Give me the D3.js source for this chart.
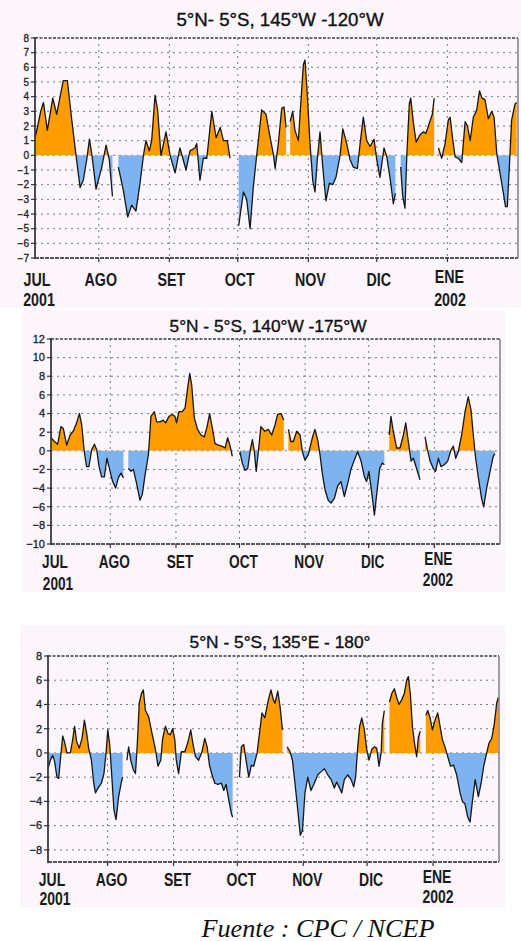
<!DOCTYPE html>
<html><head><meta charset="utf-8">
<script src="https://cdn.jsdelivr.net/npm/d3@7"></script>
<style>body{margin:0;background:#fff}svg{display:block}</style>
</head><body>
<svg id="c" width="521" height="941"></svg>
<script>
// ---------- data ----------
const months = ["JUL","AGO","SET","OCT","NOV","DIC","ENE"];
const monthStartDays = [0,31,62,92,123,153,184]; // days since 1 Jul 2001
const yearLabels = ["2001","2002"];
const titles = ["5°N- 5°S, 145°W -120°W","5°N - 5°S, 140°W -175°W","5°N - 5°S, 135°E - 180°"];
const source = "Fuente : CPC / NCEP";

const ticks1 = [-7,-6,-5,-4,-3,-2,-1,0,1,2,3,4,5,6,7,8];
const ticks2 = [-10,-8,-6,-4,-2,0,2,4,6,8,10,12];
const ticks3 = [-8,-6,-4,-2,0,2,4,6,8];

// panel 1: 145W-120W  (null = missing data)
const days1 = [3,4.2,5.5,6.7,8.4,10.8,12.5,15.4,17.2,19,21,22.8,24.2,25.7,26.9,28,29.8,32.3,34.2,35.6,37,38.3,39.6,41.8,43.7,45.4,47.3,49.1,50.6,51.7,53.2,54.2,55.7,56.8,58.3,60.5,62.3,64.5,66.6,69.3,71,73.2,74,75.4,76.9,78.4,80.6,82.5,84.3,85.7,87.4,88.6,90.5,92.4,94.5,95.9,97.4,98.8,100.3,102.5,104.4,106.2,107.6,108.4,109.8,111.3,112.3,113.2,114,115,116.1,117.1,118.6,119.6,120.8,121.5,122.5,123.7,124.9,125.9,126.9,128.1,129.3,130.7,132.2,133.7,135.1,136.9,138.1,139.5,141.3,142.7,144.5,145.7,147.1,148.6,150.1,151.8,153,154.4,156.2,157.4,158.8,160.3,161.2,162.3,163.5,164.4,165.4,166.2,167.3,167.9,169.1,170.3,172,173.5,174.6,176.1,177.4,178.2,179.2,180.1,181.5,183,184.4,185.2,186.4,187.4,188.8,190.3,191.8,192.8,194,195.4,196.9,198.1,199.2,200.5,202,203.5,204.5,205.7,207.1,208.6,209.5,210.3,211.2,212.2,213.7,214.4];
const vals1 = [1.2,2.0,3.0,3.6,1.7,3.9,2.8,5.1,5.1,2.6,0,-2.2,-1.7,-0.3,1.1,0,-2.3,-0.8,0.7,-0.3,-2.8,null,-0.8,-2.4,-4.2,-3.4,-3.8,-1.9,0,1.0,0.3,1.0,4.1,3.1,0,1.6,0,-1.2,0.5,-1.0,0.3,0.5,0.8,-1.7,-0.2,-0.2,3.0,1.2,1.9,1.0,1.0,-0.2,null,-4.8,-2.5,-3.0,-5.0,-2.2,0,3.1,2.8,1.2,0.1,-0.9,0.8,3.2,3.3,1.9,null,2.3,3.0,1.7,1.0,3.4,6.2,6.5,4.2,0.8,-1.7,-2.5,-0.3,1.6,-0.8,-3.1,-1.9,-2.0,-1.5,0,1.8,1.0,-0.3,-0.8,-0.9,0.8,2.6,1.0,0.6,1.1,-0.3,-1.5,0.5,-0.1,-1.5,-3.3,-2.6,null,-0.8,-2.8,-3.6,0,3.5,3.9,2.2,0.9,1.4,1.6,1.5,2.2,2.8,3.9,null,0.5,-0.2,0.8,2.4,2.6,1.0,-0.1,-0.2,-0.5,2.3,2.0,1.0,2.6,3.1,4.4,3.9,3.8,2.5,3.0,2.6,0.1,-1.2,-2.6,-3.5,-3.5,-0.8,2.4,3.5,3.6];

// panel 2: 140W-175W
const days2 = [3,4.6,6.1,7.7,8.8,10.4,12,13.5,15.1,16.4,17.5,18.7,19.8,20.9,22.2,23.5,24.6,25.7,26.9,28.2,29.4,30.9,32.1,33.5,34.8,36,37.2,38.4,39.5,40.8,41.9,43.4,45,46.1,47.4,49,50.2,51.8,52.9,54.5,56,57.1,58.7,60.3,61.5,62.3,63.4,65,66.3,67.5,68.5,69.4,70.7,72.2,73.8,75.4,76.7,77.9,79.2,80.4,82,83.6,85.2,86.4,87.5,88.6,90.5,92.2,93.3,94.6,95.9,97.1,98.1,99,99.9,100.9,102.1,104,105.6,107.2,108.8,110,111.6,112.9,113.9,115.1,116.3,117.4,119,120.6,121.7,122.9,124.5,126.4,127.6,128.9,130,131.1,132.4,133.9,135.2,136.8,138.3,139.9,141.5,143.1,144.6,146.2,147.8,149.4,151,152,153.1,154.4,155.7,156.9,158.2,159.4,160.4,161.6,162.7,163.5,164.6,166.2,167.8,169.4,170.5,171.7,173,174.1,175.6,177.2,178.4,179.6,180.8,182,183.5,184.6,185.9,187.1,188.7,190.3,191.9,193,194.1,195.3,196.9,198.5,200,201.3,202.4,203.5,204.8,206.3,207.3,208.7,210.3,211.8,212.6];
const vals2 = [1.4,1.0,0.7,2.6,2.4,0.6,1.7,2.1,3.0,4.0,2.8,-0.1,-1.7,-1.7,0.1,0.7,0.1,-1.7,-2.8,-2.8,-0.8,-2.2,-3.3,-4.0,-2.9,-2.4,-2.9,null,-1.9,-2.2,-2.0,-3.5,-5.3,-4.7,-2.6,-0.4,3.7,4.2,3.1,3.1,3.3,3.0,3.7,3.9,3.7,3.0,4.2,4.2,4.6,6.7,8.3,7.1,3.5,2.3,1.7,1.5,2.6,4.0,2.4,0.8,0.6,0.5,0.3,1.4,0.6,-0.6,null,-0.1,-1.3,-2.1,-1.9,0.1,1.2,-0.1,-2.2,-0.1,2.6,2.1,2.3,1.7,2.8,3.9,4.0,3.3,null,2.3,1.0,1.0,2.1,1.7,-0.1,-1.0,-0.4,1.4,2.3,1.2,-0.4,-2.4,-4.2,-5.3,-5.6,-5.1,-3.8,-3.3,-4.9,-3.5,-2.0,-1.0,-0.1,-1.1,-2.8,-3.3,-2.2,-4.4,-6.9,-4.4,-1.9,-1.3,-1.5,null,1.7,3.7,2.1,0.3,0.3,1.7,3.0,1.0,-1.1,-0.8,-1.9,-3.1,null,1.5,0.1,-1.1,-1.9,-2.2,-0.8,-1.7,-1.5,-1.1,0.1,0.5,-0.8,-0.1,1.7,4.2,5.8,4.4,1.7,-0.8,-2.9,-5.1,-6.0,-4.0,-2.2,-0.6,-0.3];

// panel 3: 135E-180
const days3 = [3,4.1,5.2,6.1,7.2,8,8.8,9.9,10.8,11.9,13.5,14.6,15.5,16.5,17.7,19,20.1,21.2,22.1,23.4,24.5,25.3,26.5,28.1,29.3,30.3,31.1,32,33.1,34,35,36.2,37.5,38.1,39,40.1,40.9,41.9,43.1,44.1,45,45.9,46.9,47.8,48.8,50.3,51.9,53.5,54.7,56,56.9,58.2,59.4,60.5,61.6,62.6,63.3,64.4,65.7,67.3,68.8,70.1,71,72.3,73.8,75.4,76.7,77.8,78.9,80.1,81.4,82.9,84.5,85.6,86.7,88,89.2,89.8,91,93,93.9,95,96.1,97.4,98.6,99.7,101.3,102.4,103.6,104.9,106.6,107.8,108.9,109.7,111,112.1,113.2,114.4,115.4,116.8,117.9,119.1,120.4,121.6,122.6,123.8,125.1,126.6,128.2,129.8,131.7,132.9,134.5,136.1,137.6,138.7,139.8,141.1,142.3,143.9,145.5,146.7,147.6,148.6,149.5,150.5,151.7,152.8,153.9,155.2,156.4,157.5,158.6,159.6,160.2,161.1,162.4,163.5,164.6,165.8,166.9,168,169.3,170.5,171.6,172.4,173.3,174.3,175.2,176.3,177.1,178,179.4,180.6,181.5,182.6,183.7,184.9,186.2,187.3,188.4,189.6,190.9,192.2,193.6,195.1,196.7,197.8,199,200.3,201.4,202.5,203.8,205.3,206.6,207.8,209.2,210.3,211.6,212.8,213.9,214.7];
const vals3 = [-1.3,-0.6,-0.2,-0.7,-2.0,-2.1,-0.6,1.4,0.9,0,0,1.1,2.2,0.9,0.4,1.2,2.7,1.6,0.4,-0.6,-2.5,-3.3,-2.9,-2.5,-1.7,0,1.9,0.7,-2.2,-4.7,-5.5,-3.6,-2.4,-2.0,null,-0.6,0.5,-0.6,-1.4,-1.7,0.8,4.1,4.9,5.2,3.5,3.0,1.6,0.3,-1.1,-0.6,1.2,2.2,1.6,1.5,2.0,1.1,-0.6,-1.7,0.1,0.1,0.9,1.9,0.9,-0.3,-0.6,0.1,1.2,0.5,-1.0,-1.8,-2.5,-2.6,-2.5,-3.1,-2.6,-3.9,-5.0,-5.3,null,-2.0,0.5,0.7,-0.6,-2.0,-1.0,-1.1,0,1.6,3.3,2.9,4.4,5.2,4.4,4.1,5.1,3.8,1.9,null,0.5,0.1,-0.6,-2.5,-4.7,-6.8,-6.4,-3.3,-2.0,-3.1,-2.5,-1.8,-1.5,-1.3,-1.8,-2.2,-2.9,-2.4,-2.8,-3.3,-2.2,-1.8,-2.2,-2.8,-2.0,0.5,2.2,2.9,1.9,0.3,-0.6,0.3,0.5,0.4,-1.1,0,2.5,3.5,null,4.2,4.9,5.3,4.6,4.0,4.4,4.9,6.0,6.3,4.9,2.2,0.9,-0.3,1.3,1.8,null,3.1,3.5,2.9,1.9,2.7,3.3,2.2,1.1,0.5,-0.3,-1.1,-1.0,-1.8,-3.3,-4.0,-4.2,-5.3,-5.7,-4.0,-2.2,-3.6,-2.5,-1.1,0,0.8,1.2,2.4,4.1,4.6];

// ---------- layout ----------
const X_DOMAIN = [3, 215];
const panels = [
  {title:titles[0], days:days1, vals:vals1, ydom:[-7,8], ticks:ticks1,
   L:35, R:518, T:38, B:258, bg:[0,0,521,308],
   tX:280, tY:26, tW:207, tS:18,
   mY:286, eneY:283, y1Y:306, y2Y:306, mS:19, mSc:0.75, mOff:2, y1X:39, y2X:450,
   tickS:10, tickEnd:29},
  {title:titles[1], days:days2, vals:vals2, ydom:[-10,12], ticks:ticks2,
   L:51, R:500, T:339, B:544, bg:[22,310,483,282],
   tX:268, tY:331.5, tW:197, tS:17,
   mY:568, eneY:565, y1Y:590, y2Y:586, mS:18, mSc:0.76, mOff:4, y1X:58, y2X:438,
   tickS:11, tickEnd:45},
  {title:titles[2], days:days3, vals:vals3, ydom:[-9,8], ticks:ticks3,
   L:48, R:499, T:656, B:862, bg:[20,625,485,283],
   tX:280, tY:648, tW:181, tS:17,
   mY:885.5, eneY:883, y1Y:905, y2Y:903, mS:17.5, mSc:0.8, mOff:4, y1X:55, y2X:438,
   tickS:11, tickEnd:42}
];

const svg = d3.select("#c");
const ORANGE = "#ff9c00", BLUE = "#7db4f0", TINT = "#fcf5fc";

panels.forEach((p, i) => {
  const g = svg.append("g");
  g.append("rect").attr("x",p.bg[0]).attr("y",p.bg[1]).attr("width",p.bg[2]).attr("height",p.bg[3]).attr("fill",TINT);

  const x = d3.scaleLinear().domain(X_DOMAIN).range([p.L, p.R]);
  const y = d3.scaleLinear().domain(p.ydom).range([p.B, p.T]);
  const data = p.days.map((d, k) => ({d, v: p.vals[k]}));

  // gridlines
  const grid = g.append("g").attr("stroke","#7a7a7a").attr("stroke-width",1).attr("stroke-dasharray","2,4");
  p.ticks.filter(t => t > p.ydom[0] && t < p.ydom[1]).forEach(t => {
    grid.append("line").attr("x1",p.L).attr("x2",p.R).attr("y1",y(t)).attr("y2",y(t));
  });
  monthStartDays.filter(d => d > X_DOMAIN[0]).forEach(d => {
    grid.append("line").attr("x1",x(d)).attr("x2",x(d)).attr("y1",p.T).attr("y2",p.B);
  });

  // clip regions above / below zero
  const cu = "cu"+i, cd = "cd"+i;
  const defs = g.append("defs");
  defs.append("clipPath").attr("id",cu).append("rect").attr("x",p.L).attr("y",p.T).attr("width",p.R-p.L).attr("height",y(0)-p.T);
  defs.append("clipPath").attr("id",cd).append("rect").attr("x",p.L).attr("y",y(0)).attr("width",p.R-p.L).attr("height",p.B-y(0));

  const area = d3.area().defined(e => e.v !== null).x(e => x(e.d)).y0(y(0)).y1(e => y(e.v));
  const line = d3.line().defined(e => e.v !== null).x(e => x(e.d)).y(e => y(e.v));
  g.append("path").datum(data).attr("d",area).attr("fill",ORANGE).attr("clip-path",`url(#${cu})`);
  g.append("path").datum(data).attr("d",area).attr("fill",BLUE).attr("clip-path",`url(#${cd})`);
  g.append("path").datum(data).attr("d",line).attr("fill","none").attr("stroke","#161616").attr("stroke-width",1.3).attr("stroke-linejoin","round");

  // frame
  g.append("line").attr("x1",p.L).attr("x2",p.R).attr("y1",p.T).attr("y2",p.T).attr("stroke","#6a6a6a").attr("stroke-width",2).attr("stroke-dasharray","3,1.5");
  g.append("line").attr("x1",p.L).attr("x2",p.R).attr("y1",p.B).attr("y2",p.B).attr("stroke","#555").attr("stroke-width",2).attr("stroke-dasharray","4,1");
  g.append("line").attr("x1",p.R).attr("x2",p.R).attr("y1",p.T).attr("y2",p.B).attr("stroke","#808080").attr("stroke-width",1.5);
  g.append("line").attr("x1",p.L).attr("x2",p.L).attr("y1",p.T-1).attr("y2",p.B+1).attr("stroke","#3a3a3a").attr("stroke-width",1.8);

  // y axis ticks + labels
  p.ticks.forEach(t => {
    g.append("line").attr("x1",p.L-4).attr("x2",p.L).attr("y1",y(t)).attr("y2",y(t)).attr("stroke","#333").attr("stroke-width",1.2);
    g.append("text").attr("x",p.tickEnd).attr("y",y(t)).attr("dy","0.35em").attr("text-anchor","end")
      .attr("font-family","Liberation Sans, Arial, sans-serif").attr("font-size",p.tickS).attr("fill","#222")
      .attr("stroke","#222").attr("stroke-width",0.3)
      .text(t < 0 ? "\u2212" + Math.abs(t) : String(t));
  });
  // month ticks
  monthStartDays.filter(d => d > X_DOMAIN[0]).forEach(d => {
    g.append("line").attr("x1",x(d)).attr("x2",x(d)).attr("y1",p.B).attr("y2",p.B+4).attr("stroke","#333").attr("stroke-width",1.2);
  });

  // title
  g.append("text").attr("x",p.tX).attr("y",p.tY).attr("text-anchor","middle")
    .attr("font-family","Liberation Sans, Arial, sans-serif").attr("font-size",p.tS).attr("fill","#111")
    .attr("stroke","#111").attr("stroke-width",0.35)
    .attr("textLength",p.tW).attr("lengthAdjust","spacingAndGlyphs").text(p.title);

  // month labels
  const lab = (txt, cx, cy) => g.append("text").attr("transform",`translate(${cx},${cy}) scale(${p.mSc},1)`)
    .attr("text-anchor","middle").attr("font-family","Liberation Sans, Arial, sans-serif")
    .attr("font-weight","bold").attr("font-size",p.mS).attr("fill","#1a1a1a").text(txt);
  months.forEach((m, k) => {
    const d = Math.max(monthStartDays[k], X_DOMAIN[0]);
    lab(m, x(d) + p.mOff, m === "ENE" ? p.eneY : p.mY);
  });
  lab(yearLabels[0], p.y1X, p.y1Y);
  lab(yearLabels[1], p.y2X, p.y2Y);
});

svg.append("text").attr("x",318).attr("y",937).attr("text-anchor","middle")
  .attr("font-family","Liberation Serif, Times New Roman, serif").attr("font-style","italic")
  .attr("font-size",25).attr("fill","#111").attr("textLength",233).attr("lengthAdjust","spacingAndGlyphs").text(source);
</script>
</body></html>
